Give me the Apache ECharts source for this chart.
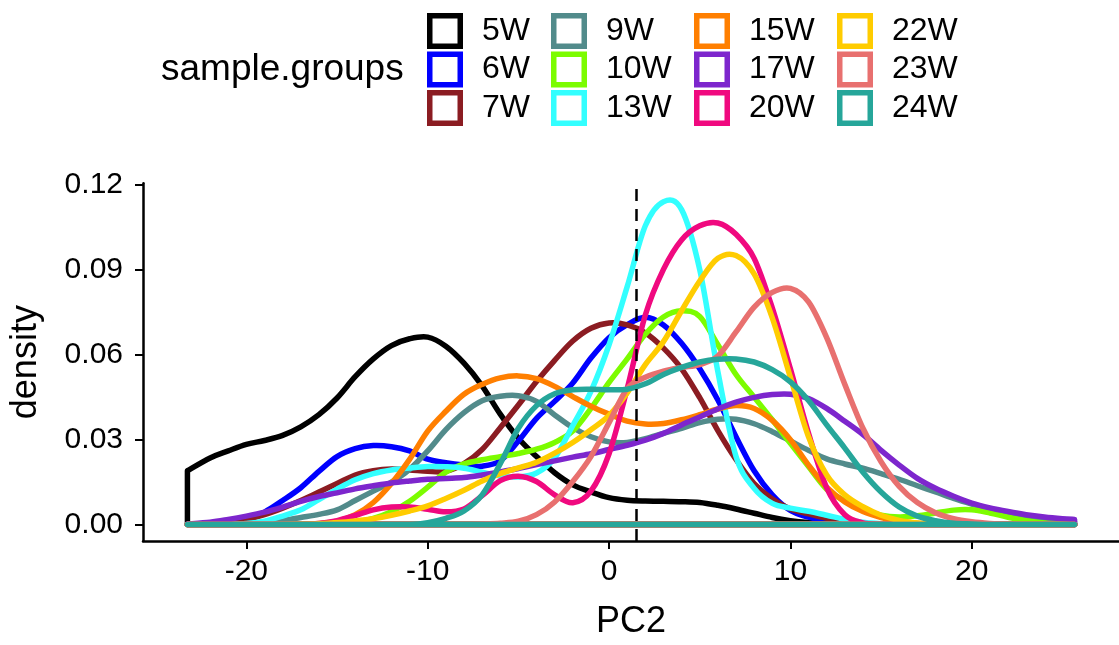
<!DOCTYPE html>
<html><head><meta charset="utf-8">
<script src="https://cdn.jsdelivr.net/npm/echarts@6/dist/echarts.min.js"></script>
<style>html,body{margin:0;padding:0;background:#fff}#c{width:1119px;height:645px}</style>
</head><body><div id="c"></div>
<script>
// ---- data ----
const groups = ['5W','6W','7W','9W','10W','13W','15W','17W','20W','22W','23W','24W'];
const colors = ['#000000','#0000FF','#8B1C22','#528B8B','#7CFC00','#33FFFF','#FF7F00','#7D26CD','#F0097F','#FFCC00','#E8706F','#26A69A'];
const xs = [-23.25,-22,-21,-20,-19,-18,-17,-16,-15,-14,-13,-12,-11,-10,-9,-8,-7,-6,-5,-4,-3,-2,-1,0,1,2,3,4,5,6,7,8,9,10,11,12,13,14,15,16,17,18,19,20,21,22,23,24,25,25.67];
const w5  = [0.019,0.0235,0.026,0.0283,0.0297,0.0315,0.0345,0.0388,0.0447,0.0522,0.0585,0.0632,0.0656,0.0662,0.063,0.057,0.049,0.039,0.0305,0.024,0.0183,0.014,0.0115,0.0095,0.0086,0.0083,0.0082,0.0081,0.0078,0.0068,0.0055,0.004,0.0025,0.0014,0.0007,0.0003,0.0001,0,0,0,0,0,0,0,0,0,0,0,0,0];
const w6  = [0,0.0002,0.0006,0.0018,0.0044,0.0085,0.013,0.0188,0.024,0.0268,0.0279,0.0275,0.026,0.0231,0.0218,0.021,0.0206,0.0225,0.0295,0.0375,0.0435,0.05,0.0588,0.066,0.0706,0.0732,0.0705,0.064,0.055,0.044,0.031,0.019,0.0105,0.005,0.0026,0.0012,0.0005,0.0002,0,0,0,0,0,0,0,0,0,0,0,0];
const w7  = [0,0.0002,0.0007,0.0018,0.0035,0.0058,0.0085,0.0115,0.0145,0.0175,0.019,0.0196,0.0193,0.0188,0.0188,0.0215,0.0265,0.0342,0.0422,0.0505,0.058,0.0648,0.0693,0.0712,0.0705,0.0677,0.0623,0.055,0.0448,0.0332,0.023,0.0145,0.009,0.0055,0.0038,0.0022,0.0009,0.0003,0.0001,0,0,0,0,0,0,0,0,0,0,0];
const w9  = [0,0,0.0001,0.0003,0.0007,0.0014,0.0025,0.0036,0.0052,0.0085,0.0118,0.015,0.0195,0.026,0.0335,0.0395,0.0437,0.0453,0.0455,0.0435,0.0387,0.0342,0.031,0.0292,0.029,0.0303,0.0322,0.034,0.036,0.0372,0.0372,0.0356,0.0328,0.0295,0.0262,0.0232,0.0214,0.0199,0.018,0.016,0.0137,0.0115,0.0092,0.0072,0.0054,0.0038,0.0026,0.0016,0.001,0.0008];
const w10 = [0,0,0,0,0,0,0,0.0001,0.0003,0.0009,0.0022,0.0045,0.0082,0.0132,0.0185,0.0214,0.0229,0.024,0.0251,0.0266,0.029,0.033,0.041,0.0502,0.0585,0.0672,0.0733,0.0755,0.0735,0.0635,0.053,0.045,0.037,0.0287,0.0205,0.0125,0.0084,0.0052,0.0033,0.0027,0.0031,0.0041,0.0051,0.0052,0.0041,0.0026,0.0014,0.0006,0.0002,0.0001];
const w13 = [0,0,0.0001,0.0004,0.0012,0.003,0.0052,0.0088,0.0125,0.0158,0.018,0.0193,0.02,0.0205,0.0204,0.0199,0.0185,0.0172,0.0168,0.0182,0.0235,0.035,0.047,0.0635,0.084,0.1055,0.114,0.1112,0.09,0.054,0.0241,0.0128,0.0075,0.0058,0.0047,0.0033,0.0018,0.0008,0.0003,0.0001,0,0,0,0,0,0,0,0,0,0];
const w15 = [0,0,0,0,0,0,0.0001,0.0004,0.0012,0.0035,0.0078,0.0145,0.023,0.033,0.04,0.046,0.0495,0.0518,0.0525,0.0515,0.0488,0.0452,0.0418,0.039,0.0365,0.0355,0.0357,0.037,0.0388,0.0408,0.042,0.041,0.0368,0.03,0.021,0.0132,0.008,0.0046,0.0025,0.0012,0.0005,0.0002,0,0,0,0,0,0,0,0];
const w17 = [0.0002,0.0008,0.0018,0.003,0.0044,0.0062,0.0082,0.0099,0.0112,0.0126,0.0137,0.0147,0.0154,0.016,0.0163,0.0166,0.0175,0.0186,0.0198,0.0212,0.0225,0.0238,0.025,0.0265,0.028,0.0298,0.0322,0.0352,0.038,0.0408,0.0432,0.0449,0.0459,0.046,0.0445,0.041,0.0365,0.0318,0.0262,0.021,0.0163,0.0128,0.01,0.0076,0.0059,0.0046,0.0035,0.0027,0.0021,0.0018];
const w20 = [0,0,0,0,0,0,0,0.0004,0.0014,0.0032,0.0052,0.0062,0.0062,0.0054,0.0045,0.0055,0.0102,0.0155,0.0171,0.0152,0.0105,0.0077,0.0118,0.025,0.048,0.074,0.0901,0.1005,0.1055,0.1065,0.1025,0.094,0.0765,0.055,0.0322,0.013,0.0035,0.0006,0.0001,0,0,0,0,0,0,0,0,0,0,0];
const w22 = [0,0,0,0,0,0,0.0001,0.0003,0.0007,0.0013,0.0021,0.0033,0.0048,0.0066,0.0092,0.0121,0.0154,0.018,0.02,0.022,0.0252,0.029,0.0335,0.0385,0.0465,0.0565,0.0646,0.0755,0.086,0.094,0.095,0.0885,0.073,0.052,0.031,0.0175,0.0105,0.0063,0.0033,0.0015,0.0006,0.0002,0,0,0,0,0,0,0,0];
const w23 = [0,0,0,0,0,0,0,0,0,0,0,0,0,0,0,0,0.0002,0.0005,0.0012,0.0035,0.008,0.0152,0.024,0.036,0.048,0.052,0.0542,0.0555,0.0565,0.0595,0.068,0.0768,0.082,0.0834,0.0786,0.066,0.0495,0.034,0.0222,0.0135,0.0078,0.0042,0.0021,0.001,0.0004,0.0001,0,0,0,0];
const w24 = [0,0,0,0,0,0,0,0,0,0,0,0,0,0.0007,0.0022,0.0048,0.0105,0.0215,0.034,0.042,0.0462,0.0476,0.0478,0.0476,0.0478,0.0497,0.053,0.0555,0.0574,0.0584,0.0585,0.0574,0.0547,0.0504,0.0438,0.0352,0.027,0.0185,0.0115,0.0062,0.003,0.0014,0.0005,0.0002,0,0,0,0,0,0];
const xTicks = [-20,-10,0,10,20];
const yTicks = [0,0.03,0.06,0.09,0.12];
const vline = 1.5;
const legendTitle = 'sample.groups';

// ---- chart ----
const FONT = '"Liberation Sans", Arial, Helvetica, sans-serif';
const vals = [w5,w6,w7,w9,w10,w13,w15,w17,w20,w22,w23,w24];

// density outline (curve + baseline, like ggplot polygon), smooth Catmull-Rom through the data points
function makeRender(v, col) {
  return function (params, api) {
    if (params.dataIndex !== 0) return;
    const n = xs.length;
    const pts = xs.map((x, j) => api.coord([x, v[j]]));
    const b0 = api.coord([xs[0], 0]);
    const bN = api.coord([xs[n - 1], 0]);
    const baseY = b0[1];
    let d = 'M' + b0[0] + ',' + b0[1] + ' L' + pts[0][0] + ',' + pts[0][1];
    for (let i = 0; i < n - 1; i++) {
      const p0 = pts[i - 1] || pts[i], p1 = pts[i], p2 = pts[i + 1], p3 = pts[i + 2] || pts[i + 1];
      const c1x = p1[0] + (p2[0] - p0[0]) / 6, c1y = Math.min(baseY, p1[1] + (p2[1] - p0[1]) / 6);
      const c2x = p2[0] - (p3[0] - p1[0]) / 6, c2y = Math.min(baseY, p2[1] - (p3[1] - p1[1]) / 6);
      d += ' C' + c1x + ',' + c1y + ' ' + c2x + ',' + c2y + ' ' + p2[0] + ',' + p2[1];
    }
    d += ' L' + bN[0] + ',' + bN[1] + ' Z';
    return {
      type: 'path', shape: {pathData: d},
      style: {stroke: col, lineWidth: 5.5, fill: null, lineJoin: 'round', lineCap: 'round'}
    };
  };
}

const series = groups.map((g, i) => {
  const v = vals[i], col = colors[i];
  const s = {
    name: g, type: 'custom', coordinateSystem: 'cartesian2d', clip: true,
    data: xs.map((x, j) => [x, v[j]]),
    encode: {x: 0, y: 1},
    renderItem: makeRender(v, col),
    color: col, itemStyle: {color: col}, animation: false, silent: true
  };
  if (i === groups.length - 1) {
    s.markLine = {
      silent: true, symbol: ['none', 'none'], label: {show: false}, animation: false,
      lineStyle: {color: '#000', width: 2.5, type: [12, 8]},
      data: [{xAxis: vline}]
    };
  }
  return s;
});

const ICON = 'path://M0,0H36V36H0Z M5.5,5.5V30.5H30.5V5.5Z';
const colLefts = [427, 551, 694, 837];
const legends = colLefts.map((L, k) => ({
  orient: 'vertical', left: L, top: 13, padding: 0,
  itemWidth: 36, itemHeight: 36, itemGap: 2.5, icon: ICON, selectedMode: false,
  data: groups.slice(k * 3, k * 3 + 3),
  itemStyle: {borderWidth: 0},
  textStyle: {fontSize: 32, color: '#000', fontFamily: FONT, lineHeight: 36, padding: [0, 0, 0, 14]}
}));

const chart = echarts.init(document.getElementById('c'), null, {renderer: 'canvas'});
chart.setOption({
  animation: false,
  backgroundColor: '#fff',
  grid: {left: 141, right: -8, top: 183.3, bottom: 99, containLabel: false},
  legend: legends,
  graphic: [{
    type: 'text', x: 161, y: 70,
    style: {text: legendTitle, fontSize: 37, fontFamily: FONT, fill: '#000', verticalAlign: 'middle', align: 'left'}
  }],
  xAxis: {
    type: 'value', min: -25.70, max: 28.12,
    axisLine: {show: true, onZero: false, lineStyle: {color: '#000', width: 2.5}},
    axisTick: {show: true, length: 8, customValues: xTicks, lineStyle: {color: '#000', width: 2}},
    axisLabel: {customValues: xTicks, fontSize: 30, color: '#000', fontFamily: FONT, margin: 16},
    splitLine: {show: false},
    name: 'PC2', nameLocation: 'middle', nameGap: 63,
    nameTextStyle: {fontSize: 36, color: '#000', fontFamily: FONT}
  },
  yAxis: {
    type: 'value', min: -0.0058, max: 0.1205,
    axisLine: {show: true, onZero: false, lineStyle: {color: '#000', width: 2.5}},
    axisTick: {show: true, length: 8, customValues: yTicks, lineStyle: {color: '#000', width: 2}},
    axisLabel: {customValues: yTicks, fontSize: 30, color: '#000', fontFamily: FONT, margin: 20,
      formatter: v => v.toFixed(2)},
    splitLine: {show: false},
    name: 'density', nameLocation: 'middle', nameGap: 99,
    nameTextStyle: {fontSize: 36, color: '#000', fontFamily: FONT}
  },
  series: series
});
</script>
</body></html>
